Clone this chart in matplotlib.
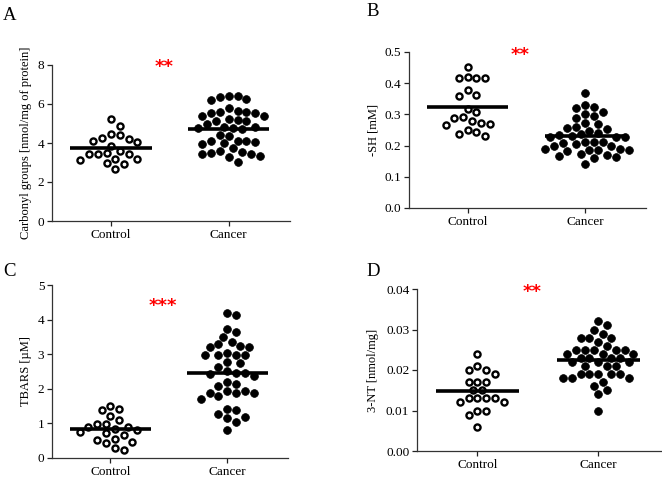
"""
Four-panel column scatter (Control vs Cancer) with mean lines.
"""
import numpy as np
import matplotlib
matplotlib.use("Agg")
import matplotlib.pyplot as plt

plt.rcParams['font.family'] = ['Liberation Serif', 'DejaVu Serif']

#%% -------- DATA --------
groups = ["Control", "Cancer"]

carbonyl_control = [5.25, 4.87, 4.44, 4.41, 4.24, 4.19, 4.12, 4.05, 3.86, 3.61,
                    3.47, 3.44, 3.44, 3.44, 3.16, 3.16, 3.13, 2.96, 2.92, 2.65]
carbonyl_cancer = [6.43, 6.40, 6.37, 6.26, 6.21, 5.78, 5.65, 5.57, 5.57, 5.55,
                   5.55, 5.40, 5.38, 5.22, 5.18, 5.15, 5.12, 4.97, 4.82, 4.80,
                   4.78, 4.76, 4.70, 4.42, 4.38, 4.12, 4.10, 4.08, 4.05, 3.98,
                   3.96, 3.73, 3.58, 3.52, 3.48, 3.46, 3.44, 3.35, 3.30, 3.05]

sh_control = [0.451, 0.419, 0.418, 0.418, 0.416, 0.378, 0.362, 0.360, 0.316, 0.309,
              0.291, 0.287, 0.279, 0.271, 0.269, 0.266, 0.250, 0.245, 0.237, 0.231]
sh_cancer = [0.369, 0.329, 0.324, 0.321, 0.309, 0.301, 0.295, 0.290, 0.271, 0.269,
             0.261, 0.255, 0.252, 0.247, 0.240, 0.236, 0.233, 0.230, 0.229, 0.228,
             0.226, 0.212, 0.210, 0.210, 0.208, 0.206, 0.200, 0.198, 0.190, 0.188,
             0.187, 0.186, 0.185, 0.184, 0.172, 0.170, 0.168, 0.165, 0.160, 0.140]

tbars_control = [1.50, 1.42, 1.39, 1.22, 1.10, 0.99, 0.97, 0.89, 0.89, 0.83,
                 0.80, 0.76, 0.71, 0.66, 0.55, 0.52, 0.47, 0.43, 0.29, 0.24]
tbars_cancer = [4.20, 4.12, 3.73, 3.65, 3.51, 3.34, 3.29, 3.23, 3.22, 3.22,
                3.04, 2.98, 2.98, 2.98, 2.98, 2.77, 2.74, 2.62, 2.51, 2.47,
                2.45, 2.42, 2.38, 2.19, 2.14, 2.09, 1.94, 1.94, 1.89, 1.89,
                1.87, 1.80, 1.71, 1.41, 1.39, 1.26, 1.19, 1.15, 1.05, 0.81]

nt_control = [0.024, 0.021, 0.020, 0.020, 0.019, 0.017, 0.017, 0.017, 0.015, 0.015,
              0.013, 0.013, 0.013, 0.013, 0.012, 0.012, 0.010, 0.010, 0.009, 0.006]
nt_cancer = [0.032, 0.031, 0.030, 0.029, 0.028, 0.028, 0.028, 0.027, 0.026, 0.025,
             0.025, 0.025, 0.025, 0.025, 0.024, 0.024, 0.024, 0.023, 0.023, 0.023,
             0.023, 0.022, 0.022, 0.022, 0.021, 0.021, 0.021, 0.019, 0.019, 0.019,
             0.019, 0.019, 0.018, 0.018, 0.018, 0.017, 0.016, 0.015, 0.014, 0.010]

panel_letters = ["A", "B", "C", "D"]
ylabels = ["Carbonyl groups [nmol/mg of protein]", "-SH [mM]",
           "TBARS [\u00b5M]", "3-NT [nmol/mg]"]
stars = ["**", "**", "***", "**"]
yticks_list = [[0, 2, 4, 6, 8],
               [0.0, 0.1, 0.2, 0.3, 0.4, 0.5],
               [0, 1, 2, 3, 4, 5],
               [0.00, 0.01, 0.02, 0.03, 0.04]]
ytick_fmt = ["{:.0f}", "{:.1f}", "{:.0f}", "{:.2f}"]
star_y = [7.9, 0.49, 4.4, 0.0392]

data = [(carbonyl_control, carbonyl_cancer), (sh_control, sh_cancer),
        (tbars_control, tbars_cancer), (nt_control, nt_cancer)]

#%% -------- LAYOUT --------
W, H = 662, 478
fig = plt.figure(figsize=(W / 100, H / 100), dpi=100)

# axes boxes in pixels: left, right, top, bottom
boxes = [(52, 290, 65, 221), (409, 646, 52, 208),
         (52, 288, 285, 458), (417, 661, 289, 451)]
letter_pos = [(10, 16), (373, 12), (9, 271), (373, 271)]
label_pad = [4, 4, 4, 5]


def swarm_x(ax, xc, vals, d=8.8):
    """Greedy beeswarm in pixel space, returns x positions in data units."""
    vals = np.asarray(vals, float)
    pix = ax.transData.transform(np.column_stack([np.full(len(vals), xc), vals]))
    ys = pix[:, 1]
    ppu = ax.transData.transform((1, 0))[0] - ax.transData.transform((0, 0))[0]
    steps = [0.0]
    for k in range(1, 12):
        steps += [k * d / 2, -k * d / 2]
    placed = []
    offs = np.zeros(len(vals))
    for i in np.argsort(-ys):
        y = ys[i]
        for c in steps:
            if all((c - px) ** 2 + (y - py) ** 2 >= (d * 0.98) ** 2 for px, py in placed):
                break
        placed.append((c, y))
        offs[i] = c
    return xc + offs / ppu


for i, (ctrl, canc) in enumerate(data):
    l, r, t, b = boxes[i]
    ax = fig.add_axes([l / W, 1 - b / H, (r - l) / W, (b - t) / H])
    yt = yticks_list[i]
    ax.set_xlim(0.5, 2.52)
    ax.set_ylim(yt[0], yt[-1])

    x0 = swarm_x(ax, 1, ctrl)
    x1 = swarm_x(ax, 2, canc)
    ax.plot(x0, ctrl, 'o', ls='none', ms=4.4, mfc='white', mec='black',
            mew=1.7, zorder=3, clip_on=False)
    ax.plot(x1, canc, 'o', ls='none', ms=5.6, mfc='black', mec='black',
            mew=0.5, zorder=3, clip_on=False)

    # mean lines
    for xc, v in [(1, ctrl), (2, canc)]:
        m = np.mean(v)
        ax.plot([xc - 0.345, xc + 0.345], [m, m], color='black', lw=2.6,
                solid_capstyle='butt', zorder=4)

    ax.set_xticks([1, 2])
    ax.set_xticklabels(groups)
    ax.set_yticks(yt)
    ax.set_yticklabels([ytick_fmt[i].format(v) for v in yt])
    ax.tick_params(labelsize=9.5, length=3.5, width=0.9, colors='#222222',
                   labelcolor='black', pad=2)
    ax.spines['top'].set_visible(False)
    ax.spines['right'].set_visible(False)
    for s in ['left', 'bottom']:
        ax.spines[s].set_linewidth(0.9)
        ax.spines[s].set_color('#333333')
    ax.set_ylabel(ylabels[i], fontsize=9, labelpad=label_pad[i])

    ax.text(1.45, star_y[i], stars[i], color='red', fontsize=13,
            fontweight='bold', family='DejaVu Sans', ha='center', va='center')

    lx, ly = letter_pos[i]
    fig.text(lx / W, 1 - ly / H, panel_letters[i], fontsize=13.5,
             ha='center', va='center')

plt.savefig("out.png", dpi=100)
